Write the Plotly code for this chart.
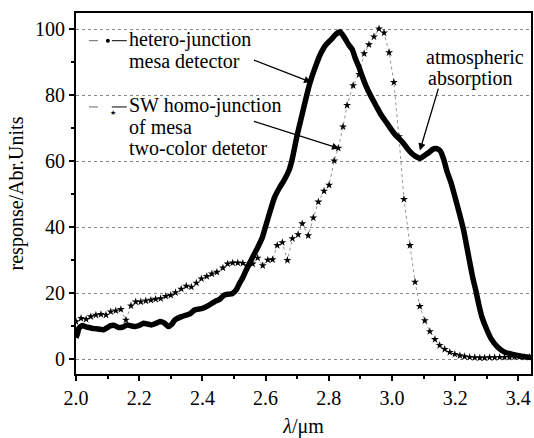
import plotly.graph_objects as go

# hetero-junction mesa detector (thick line)
hetero_x = [2.0, 2.005, 2.009, 2.02, 2.029, 2.04, 2.05, 2.065, 2.087, 2.1, 2.108, 2.12, 2.135, 2.15, 2.161,
            2.175, 2.187, 2.2, 2.214, 2.228, 2.24, 2.252, 2.266, 2.28, 2.292, 2.303, 2.313, 2.334, 2.35,
            2.362, 2.375, 2.4, 2.42, 2.438, 2.455, 2.47, 2.483, 2.495, 2.507, 2.517, 2.528, 2.538, 2.556,
            2.575, 2.59, 2.61, 2.628, 2.644, 2.66, 2.675, 2.685, 2.7, 2.72, 2.738, 2.757, 2.776, 2.792,
            2.808, 2.822, 2.836, 2.85, 2.862, 2.874, 2.885, 2.896, 2.907, 2.918, 2.933, 2.95, 2.965,
            2.981, 2.997, 3.013, 3.032, 3.048, 3.063, 3.077, 3.09, 3.103, 3.117, 3.128, 3.138, 3.147,
            3.154, 3.164, 3.174, 3.187, 3.2, 3.214, 3.227, 3.243, 3.255, 3.265, 3.275, 3.284, 3.3,
            3.315, 3.335, 3.355, 3.379, 3.41, 3.442]
hetero_y = [6.5, 7.8, 9.4, 10.2, 9.9, 9.6, 9.4, 9.2, 8.9, 9.6, 10.1, 10.3, 9.6, 9.8, 10.4,
            10.1, 9.9, 10.2, 10.9, 10.6, 10.4, 10.8, 11.4, 10.9, 9.9, 10.6, 11.9, 12.9, 13.4,
            13.8, 14.9, 15.4, 16.3, 17.4, 18.2, 19.5, 19.7, 19.9, 21.0, 22.9, 24.8, 26.9, 30.4,
            33.9, 37.0, 43.5, 49.0, 52.0, 54.5, 57.5, 61.0, 68.0, 76.0, 83.0, 88.5, 93.0, 95.5,
            97.0, 98.5, 99.3, 97.5, 95.5, 94.0, 91.0, 88.5, 85.5, 82.8, 79.8, 76.8, 74.2,
            72.0, 69.8, 67.8, 66.0, 64.0, 62.4, 61.4, 60.9, 61.8, 62.7, 63.6, 63.9, 63.6,
            63.0, 60.5, 57.0, 53.5, 49.0, 44.0, 39.0, 31.0, 25.0, 21.0, 16.5, 13.0, 9.0,
            6.0, 3.6, 2.2, 1.5, 0.9, 0.5]

# SW homo-junction of mesa two-color detector (stars)
homo_x = [2.0, 2.016, 2.032, 2.047, 2.063, 2.079, 2.095, 2.110, 2.126, 2.142, 2.158, 2.174, 2.189,
          2.205, 2.221, 2.237, 2.252, 2.268, 2.284, 2.300, 2.315, 2.333, 2.349, 2.365, 2.381, 2.397,
          2.414, 2.430, 2.446, 2.465, 2.480, 2.496, 2.512, 2.528, 2.543, 2.559, 2.575, 2.591, 2.607,
          2.622, 2.637, 2.653, 2.669, 2.685, 2.703, 2.716, 2.735, 2.751, 2.767, 2.785, 2.801, 2.817,
          2.830, 2.845, 2.858, 2.877, 2.896, 2.912, 2.927, 2.943, 2.959, 2.975, 2.991, 3.006, 3.022,
          3.038, 3.057, 3.073, 3.088, 3.104, 3.120, 3.136, 3.151, 3.167, 3.183, 3.199, 3.215, 3.230,
          3.246, 3.262, 3.278, 3.293, 3.309, 3.325, 3.341, 3.356, 3.372, 3.388, 3.404, 3.420, 3.435]
homo_y = [11.4, 12.4, 12.1, 12.9, 13.4, 13.6, 13.4, 14.4, 14.7, 15.1, 11.9, 16.2, 17.4,
          17.4, 17.7, 17.9, 18.2, 18.4, 19.1, 19.4, 20.2, 21.3, 22.2, 21.9, 23.1, 24.4,
          25.1, 25.9, 26.4, 27.7, 28.9, 29.2, 29.2, 29.1, 28.4, 28.9, 30.7, 28.4, 30.1,
          30.2, 34.5, 35.4, 30.0, 36.6, 37.8, 41.1, 37.5, 42.9, 47.7, 51.0, 52.8, 60.2,
          64.0, 70.5, 77.0, 83.0, 86.4, 92.7, 95.4, 97.8, 100.2, 99.0, 93.0, 84.0, 67.5,
          48.5, 34.5, 23.4, 16.0, 11.7, 8.4, 6.0, 4.2, 3.0, 2.1, 1.5, 1.1, 0.8,
          0.6, 0.5, 0.4, 0.4, 0.5, 0.5, 0.6, 0.6, 0.6, 0.7, 0.7, 0.6, 0.6]

x_ticks = [2.0, 2.2, 2.4, 2.6, 2.8, 3.0, 3.2, 3.4]
y_ticks = [0, 20, 40, 60, 80, 100]

FONT = "Liberation Serif, Times New Roman, serif"

fig = go.Figure()
fig.add_trace(go.Scatter(x=homo_x, y=homo_y, mode="lines+markers",
                         line=dict(color="#7a7a7a", width=0.8, dash="dot"),
                         marker=dict(symbol="star", size=6, color="black"),
                         showlegend=False))
fig.add_trace(go.Scatter(x=hetero_x, y=hetero_y, mode="lines",
                         line=dict(color="black", width=5.5, shape="spline", smoothing=0.4),
                         showlegend=False))

W, H = 534, 438
L, R, T, B = 76, 1, 13, 60
pw, ph = W - L - R, H - T - B


def px(xp):
    return (xp - L) / pw


def py(yp):
    return (H - B - yp) / ph


def dx(xp):
    return 2.0 + (xp - 76) / 317.0


def dy(yp):
    return (363 - yp) * 0.3


anns = []
# legend texts
for txt, yp in [("hetero-junction", 40), ("mesa detector", 62),
                ("SW homo-junction", 107), ("of mesa", 128), ("two-color detetor", 150)]:
    anns.append(dict(x=px(127), y=py(yp), xref="paper", yref="paper", text=txt,
                     showarrow=False, xanchor="left", yanchor="middle",
                     font=dict(family=FONT, size=20, color="black")))
for txt, xp, yp in [("atmospheric", 477, 58), ("absorption", 472, 79)]:
    anns.append(dict(x=px(xp), y=py(yp), xref="paper", yref="paper", text=txt,
                     showarrow=False, xanchor="center", yanchor="middle",
                     font=dict(family=FONT, size=20, color="black")))
# legend star glyph
anns.append(dict(x=px(108), y=py(108), xref="paper", yref="paper", text="★", showarrow=False,
                 font=dict(size=7, color="black")))
# arrows
for (tx, ty, hx, hy) in [(253, 60, 312, 83), (253, 122, 340, 150), (440, 88, 421, 152)]:
    anns.append(dict(x=dx(hx), y=dy(hy), ax=dx(tx), ay=dy(ty), xref="x", yref="y",
                     axref="x", ayref="y", text="", showarrow=True, arrowhead=2,
                     arrowsize=1.1, arrowwidth=1.3, arrowcolor="black"))

shapes = []
for yp in [41, 108]:
    shapes.append(dict(type="line", xref="paper", yref="paper", x0=px(89), x1=px(103),
                       y0=py(yp), y1=py(yp), line=dict(color="#666", width=1, dash="dash")))
    shapes.append(dict(type="line", xref="paper", yref="paper", x0=px(112), x1=px(127),
                       y0=py(yp), y1=py(yp), line=dict(color="black", width=1)))
# legend dot glyph
shapes.append(dict(type="circle", xref="paper", yref="paper", x0=px(106), x1=px(110),
                   y0=py(43), y1=py(39), fillcolor="black", line=dict(color="black", width=0)))

fig.update_layout(
    width=W, height=H, margin=dict(l=L, r=R, t=T, b=B),
    paper_bgcolor="white", plot_bgcolor="white",
    font=dict(family=FONT, size=20, color="black"),
    annotations=anns, shapes=shapes,
    xaxis=dict(range=[2.0, 3.44], tickvals=x_ticks, ticktext=[f"{v:.1f}" for v in x_ticks],
               showgrid=False, zeroline=False, showline=True, linecolor="black", linewidth=1.5,
               mirror=True, ticks="outside", ticklen=5, tickwidth=1.5, tickcolor="black",
               minor=dict(dtick=0.1, tick0=2.0, ticks="outside", ticklen=3, tickcolor="black"),
               title=dict(text="<i>λ</i>/μm", font=dict(family=FONT, size=20), standoff=14),
               tickfont=dict(family=FONT, size=20)),
    yaxis=dict(range=[-4.5, 105], tickvals=y_ticks, showgrid=True, gridcolor="#888",
               griddash="dot", gridwidth=1, zeroline=False, showline=True, linecolor="black",
               linewidth=2, mirror=True, ticks="outside", ticklen=5, tickwidth=1.5,
               tickcolor="black",
               minor=dict(dtick=10, tick0=0, ticks="outside", ticklen=3, tickcolor="black"),
               title=dict(text="response/Abr.Units", font=dict(family=FONT, size=20), standoff=6),
               tickfont=dict(family=FONT, size=20)),
)
fig.write_html("out.html")
